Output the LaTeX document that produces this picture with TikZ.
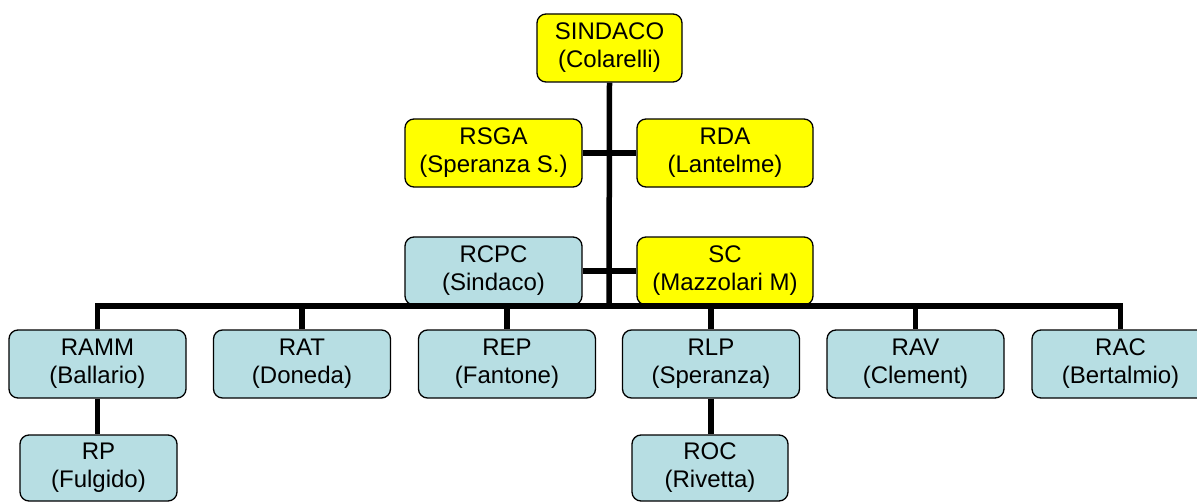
\documentclass[tikz,border=0pt]{standalone}
\usepackage{fontspec}
\setmainfont{Liberation Sans}
\usepackage{tikz}
\usetikzlibrary{positioning, calc}
\definecolor{headcolor}{RGB}{255, 255, 0}
\definecolor{unitcolor}{RGB}{183, 222, 227}

\begin{document}
\begin{tikzpicture}[x=1pt, y=-1pt,
    box/.style={draw, rounded corners=9pt, line width=1.3pt, minimum height=68pt,
        minimum width=177pt, align=center, inner sep=0pt,
        font=\fontsize{24}{28}\selectfont},
    head/.style={box, fill=headcolor},
    unit/.style={box, fill=unitcolor},
    link/.style={line width=5.5pt}]
\useasboundingbox (0,0) rectangle (1197,503);

% Top
\node[head, minimum width=145pt] (sindaco) at (609.5,48) {SINDACO\\(Colarelli)};
\node[head] (rsga) at (493.5,153) {RSGA\\(Speranza S.)};
\node[head, minimum width=176pt] (rda) at (725,153) {RDA\\(Lantelme)};
\node[unit] (rcpc) at (493.5,271) {RCPC\\(Sindaco)};
\node[head, minimum width=176pt] (sc) at (725,271) {SC\\(Mazzolari M)};

% Row
\node[unit] (ramm) at (97.5,364) {RAMM\\(Ballario)};
\node[unit] (rat) at (302,364) {RAT\\(Doneda)};
\node[unit] (rep) at (507,364) {REP\\(Fantone)};
\node[unit] (rlp) at (711,364) {RLP\\(Speranza)};
\node[unit] (rav) at (915.5,364) {RAV\\(Clement)};
\node[unit] (rac) at (1120.5,364) {RAC\\(Bertalmio)};

% Under
\node[unit, minimum width=157pt, minimum height=66pt] (rp) at (98.5,468) {RP\\(Fulgido)};
\node[unit, minimum width=156pt, minimum height=66pt] (roc) at (710,468) {ROC\\(Rivetta)};

% Links
\coordinate (bus) at (609,306);
\draw[link] (sindaco.south) -- (bus);
\draw[link] (rsga.east) -- (rda.west);
\draw[link] (rcpc.east) -- (sc.west);
\foreach \n in {ramm, rat, rep, rlp, rav, rac} {
    \draw[link] (bus) -| (\n.north);
}
\draw[link] (ramm.south) -- (ramm.south |- rp.north);
\draw[link] (rlp.south) -- (rlp.south |- roc.north);
\end{tikzpicture}
\end{document}
